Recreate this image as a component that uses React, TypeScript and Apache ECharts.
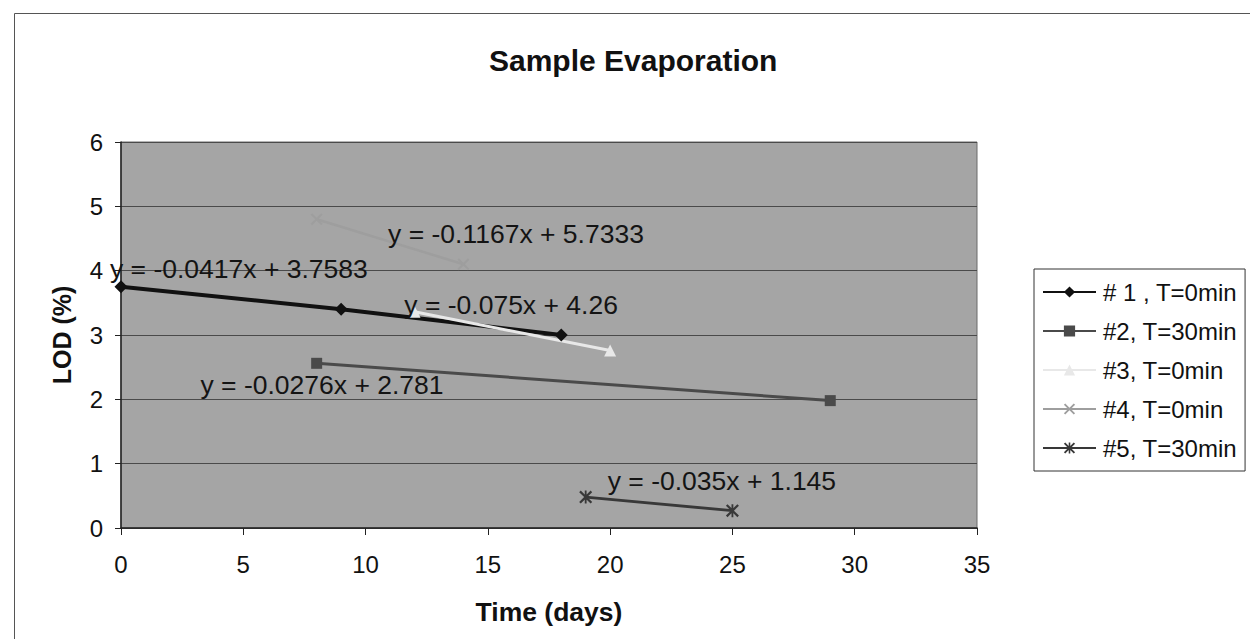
import React, { useEffect, useRef } from "react";
import * as echarts from "echarts";

const seriesNames = ["# 1 , T=0min", "#2, T=30min", "#3, T=0min", "#4, T=0min", "#5, T=30min"];
const s1 = [[0, 3.75], [9, 3.4], [18, 3.0]];
const s2 = [[8, 2.56], [29, 1.98]];
const s3 = [[12, 3.36], [20, 2.76]];
const s4 = [[8, 4.8], [14, 4.1]];
const s5 = [[19, 0.48], [25, 0.27]];
const equations = [
  "y = -0.0417x + 3.7583",
  "y = -0.0276x + 2.781",
  "y = -0.075x + 4.26",
  "y = -0.1167x + 5.7333",
  "y = -0.035x + 1.145",
];
const eqAnchors = [[4.82, 4.03], [8.22, 2.22], [15.95, 3.47], [16.15, 4.57], [24.57, 0.73]];
const xTicks = [0, 5, 10, 15, 20, 25, 30, 35];
const yTicks = [0, 1, 2, 3, 4, 5, 6];

const FONT = "'Liberation Sans', Arial, sans-serif";
const X_PATH = "path://M0,1.2 L1.2,0 L5,3.8 L8.8,0 L10,1.2 L6.2,5 L10,8.8 L8.8,10 L5,6.2 L1.2,10 L0,8.8 L3.8,5 Z";
const STAR_PATH =
  "path://M0,1.2 L1.2,0 L5,3.8 L8.8,0 L10,1.2 L6.2,5 L10,8.8 L8.8,10 L5,6.2 L1.2,10 L0,8.8 L3.8,5 Z M4.3,0 L5.7,0 L5.7,10 L4.3,10 Z";

export default function App() {
  const ref = useRef<HTMLDivElement>(null);
  useEffect(() => {
    if (!ref.current) return;
    const chart = echarts.init(ref.current, null, { renderer: "svg" });
    const datasets = [s1, s2, s3, s4, s5];
    const colors = ["#111111", "#4a4a4a", "#e8e8e8", "#9e9e9e", "#383838"];
    const symbols = ["diamond", "rect", "triangle", X_PATH, STAR_PATH];
    const symbolSizes = [13, 11, 12, 12, 13];
    const widths = [4, 3, 3, 2.5, 3];
    const series = datasets.map((d, i) => ({
      name: seriesNames[i],
      type: "line",
      data: d,
      symbol: symbols[i],
      symbolSize: symbolSizes[i],
      showSymbol: true,
      lineStyle: { color: colors[i], width: widths[i] },
      itemStyle: { color: colors[i] },
      z: 3,
      markPoint: {
        symbol: "circle",
        symbolSize: 0,
        silent: true,
        data: [
          {
            coord: eqAnchors[i],
            label: {
              show: true,
              position: "inside",
              formatter: equations[i],
              fontSize: 26.5,
              fontFamily: FONT,
              color: "#141414",
            },
          },
        ],
      },
    }));
    chart.setOption({
      animation: false,
      backgroundColor: "#ffffff",
      textStyle: { fontFamily: FONT },
      title: {
        text: "Sample Evaporation",
        left: 489,
        top: 45,
        padding: 0,
        textStyle: { fontFamily: FONT, fontSize: 30, fontWeight: "bold", color: "#111" },
      },
      graphic: [
        {
          type: "rect",
          left: 12,
          top: 11,
          shape: { width: 1400, height: 800 },
          style: { fill: "none", stroke: "#555", lineWidth: 1 },
          z: -10,
          silent: true,
        },
      ],
      legend: {
        orient: "vertical",
        left: 1034,
        top: 269,
        padding: [11, 8, 11, 8],
        itemGap: 15,
        itemWidth: 53,
        itemHeight: 14,
        borderColor: "#333",
        borderWidth: 1,
        backgroundColor: "#fff",
        textStyle: { fontSize: 24, fontFamily: FONT, color: "#111", lineHeight: 24, padding: [0, 0, 0, 2] },
        data: seriesNames,
      },
      grid: {
        left: 121,
        top: 142,
        right: 273,
        bottom: 111,
        show: true,
        backgroundColor: "#a5a5a5",
        borderColor: "#6a6a6a",
        borderWidth: 1,
      },
      xAxis: {
        type: "value",
        min: xTicks[0],
        max: xTicks[xTicks.length - 1],
        interval: 5,
        name: "Time (days)",
        nameLocation: "middle",
        nameGap: 70,
        nameTextStyle: { fontSize: 26.5, fontWeight: "bold", color: "#111", fontFamily: FONT },
        axisLine: { show: true, lineStyle: { color: "#222", width: 1.5 } },
        axisTick: { show: true, length: 7, lineStyle: { color: "#222" } },
        axisLabel: { fontSize: 24, color: "#111", margin: 24, fontFamily: FONT },
        splitLine: { show: false },
      },
      yAxis: {
        type: "value",
        min: yTicks[0],
        max: yTicks[yTicks.length - 1],
        interval: 1,
        name: "LOD (%)",
        nameLocation: "middle",
        nameGap: 47,
        nameRotate: 90,
        nameTextStyle: { fontSize: 25, fontWeight: "bold", color: "#111", fontFamily: FONT },
        axisLine: { show: true, lineStyle: { color: "#222", width: 1.5 } },
        axisTick: { show: true, length: 6, lineStyle: { color: "#222" } },
        axisLabel: { fontSize: 24, color: "#111", margin: 18, fontFamily: FONT },
        splitLine: { show: true, lineStyle: { color: "#4a4a4a", width: 1 } },
      },
      series,
    });
    return () => chart.dispose();
  }, []);
  return (
    <div
      ref={ref}
      style={{ position: "fixed", left: 0, top: 0, width: 1250, height: 639, background: "#fff" }}
    />
  );
}
